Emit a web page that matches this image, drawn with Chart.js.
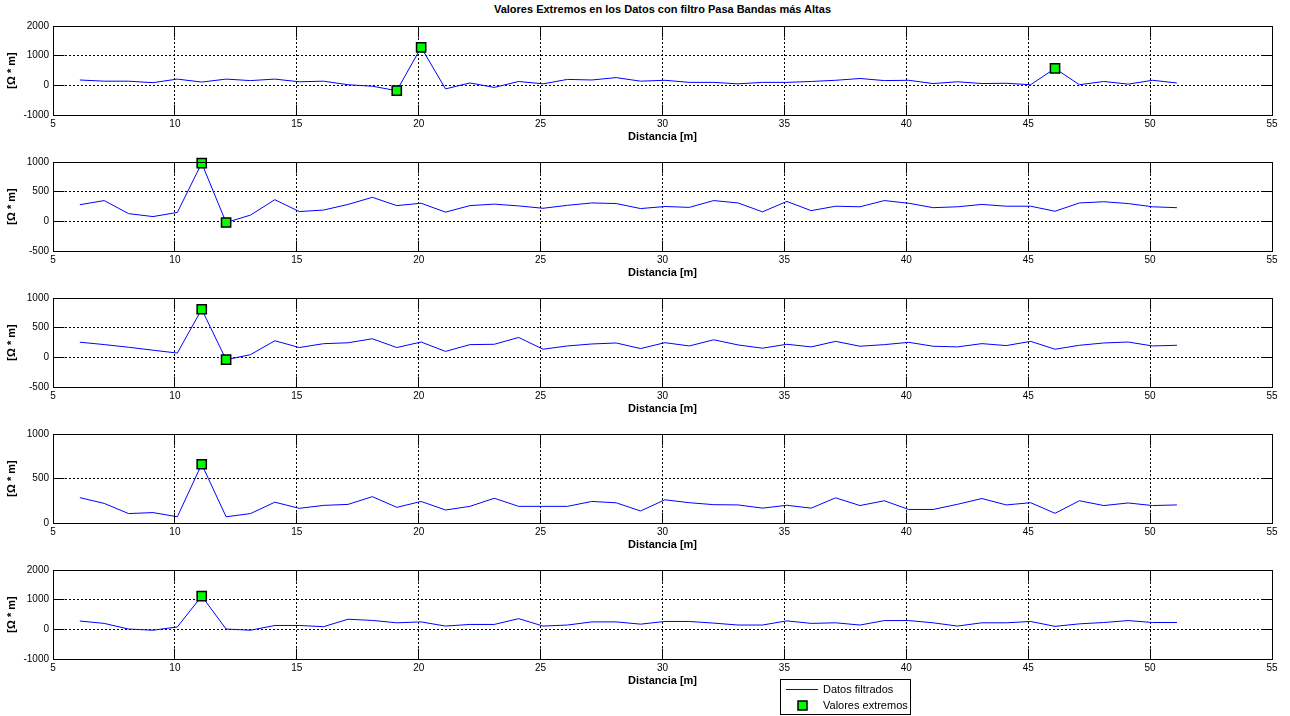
<!DOCTYPE html>
<html>
<head>
<meta charset="utf-8">
<script src="https://cdn.jsdelivr.net/npm/chart.js@4"></script>
<style>
body{margin:0;background:#fff;width:1290px;height:716px;overflow:hidden;position:relative;font-family:"Liberation Sans",Arial,sans-serif;}
#titulo{position:absolute;left:53px;width:1219px;top:3px;text-align:center;font-weight:bold;font-size:11px;color:#000;}
canvas{position:absolute;left:0;}
</style>
</head>
<body>
<div id="titulo">Valores Extremos en los Datos con filtro Pasa Bandas más Altas</div>
<canvas id="c1" width="1290" height="130" style="top:18px"></canvas>
<canvas id="c2" width="1290" height="130" style="top:154px"></canvas>
<canvas id="c3" width="1290" height="130" style="top:290px"></canvas>
<canvas id="c4" width="1290" height="130" style="top:426px"></canvas>
<canvas id="c5" width="1290" height="154" style="top:562px"></canvas>
<script>
// distancias de medicion [m]
let distancia = [6.1,7.1,8.1,9.1,10.1,11.1,12.1,13.1,14.1,15.1,16.1,17.1,18.1,19.1,20.1,21.1,22.1,23.1,24.1,25.1,26.1,27.1,28.1,29.1,
30.1,31.1,32.1,33.1,34.1,35.1,36.1,37.1,38.1,39.1,40.1,41.1,42.1,43.1,44.1,45.1,46.1,47.1,48.1,49.1,50.1,51.1];

// datos filtrados de cada nivel
let datos1 = [180,140,140,90,210,110,210,160,210,120,140,20,-30,-180,1280,-120,80,-70,130,50,200,180,260,140,
170,100,100,50,100,100,130,170,230,160,170,60,120,60,70,20,570,20,130,40,170,80];
let datos2 = [280,350,130,80,150,980,-20,105,365,165,190,285,405,265,305,155,265,290,260,220,270,310,300,215,
250,235,350,310,160,335,180,255,245,350,305,230,245,285,255,255,170,310,330,300,245,230];
let datos3 = [255,215,170,120,72,810,-40,45,280,165,230,245,313,165,258,100,214,220,335,137,192,225,242,148,
247,192,296,209,154,220,176,269,187,214,253,187,176,231,198,269,137,203,242,258,192,203];
let datos4 = [285,220,106,117,70,660,70,106,234,165,198,209,296,176,242,146,187,278,187,187,187,242,227,135,
261,228,206,203,167,199,167,283,196,250,152,152,210,275,203,228,109,250,196,225,196,203];
let datos5 = [280,200,10,-30,80,1120,10,-30,130,130,90,340,300,220,250,110,165,165,360,110,145,250,250,175,
265,265,210,145,145,285,200,220,145,295,295,220,110,220,220,265,100,185,230,295,230,230];

// distancias donde estan los valores extremos
let extremos1 = [19.1,20.1,46.1];
let extremos2 = [11.1,12.1];
let extremos3 = [11.1,12.1];
let extremos4 = [11.1];
let extremos5 = [11.1];

Chart.defaults.font.family = '"Liberation Sans", Arial, sans-serif';
Chart.defaults.font.size = 10;
Chart.defaults.color = '#000';

function alinear(p){
return Math.round(p - 0.5) + 0.5;
}

/* caja y marcas hacia adentro, estilo matlab */
const cuadro = {
id:'cuadro',
afterDraw(chart){
const {ctx, chartArea:a, scales} = chart;
const L = alinear(a.left), R = alinear(a.right), T = alinear(a.top), B = alinear(a.bottom);
const largo = 11;
ctx.save();
ctx.setLineDash([]);
ctx.strokeStyle = '#000';
ctx.lineWidth = 1;
ctx.strokeRect(L, T, R - L, B - T);
ctx.beginPath();
scales.x.ticks.forEach(t=>{
let px = alinear(scales.x.getPixelForValue(t.value));
ctx.moveTo(px, B); ctx.lineTo(px, B - largo);
ctx.moveTo(px, T); ctx.lineTo(px, T + largo);
});
scales.y.ticks.forEach(t=>{
let py = alinear(scales.y.getPixelForValue(t.value));
ctx.moveTo(L, py); ctx.lineTo(L + largo, py);
ctx.moveTo(R, py); ctx.lineTo(R - largo, py);
});
ctx.stroke();
ctx.restore();
}
};

/* leyenda abajo, dibujada en el ultimo panel */
const leyenda = {
id:'leyenda',
afterDraw(chart){
const ctx = chart.ctx;
const ext = chart.data.datasets[0];
const lin = chart.data.datasets[1];
ctx.save();
ctx.setLineDash([]);
ctx.fillStyle = '#fff';
ctx.fillRect(780.5, 117.5, 130, 35);
ctx.strokeStyle = '#000';
ctx.lineWidth = 1;
ctx.strokeRect(780.5, 117.5, 130, 35);
ctx.strokeStyle = lin.borderColor;
ctx.beginPath();
ctx.moveTo(786, 127.5);
ctx.lineTo(818, 127.5);
ctx.stroke();
ctx.fillStyle = ext.pointBackgroundColor;
ctx.fillRect(798, 139, 9, 9);
ctx.strokeStyle = ext.pointBorderColor;
ctx.lineWidth = 1.5;
ctx.strokeRect(798, 139, 9, 9);
ctx.fillStyle = '#000';
ctx.font = '11px "Liberation Sans", Arial, sans-serif';
ctx.textBaseline = 'middle';
ctx.fillText(lin.label, 823, 128);
ctx.fillText(ext.label, 823, 144);
ctx.restore();
}
};

function crearPanel(id, valores, extremos, yMin, yMax, paso, ultimo){

let linea = distancia.map((d,i)=>({x:d, y:valores[i]}));
let puntos = extremos.map(d=>({x:d, y:valores[distancia.indexOf(d)]}));

return new Chart(document.getElementById(id),{

type:"line",

data:{
datasets:[{
label:"Valores extremos",
data:puntos,
showLine:false,
clip:false,
pointStyle:"rect",
pointRadius:6.5,
pointBackgroundColor:"#00ff00",
pointBorderColor:"#000000",
pointBorderWidth:1.5,
order:0
},{
label:"Datos filtrados",
data:linea,
borderColor:"#0000ff",
borderWidth:1,
pointRadius:0,
tension:0,
fill:false,
order:1
}]
},

options:{
responsive:false,
animation:false,
events:[],
layout:{padding:{top:6, right:18, bottom: ultimo ? 24 : 0, left:0}},
plugins:{legend:{display:false}, tooltip:{enabled:false}},
scales:{
x:{
type:"linear",
min:5,
max:55,
ticks:{stepSize:5, padding:3, maxRotation:0, callback:v=>String(v)},
grid:{color:"#000", drawTicks:false, lineWidth:1},
border:{display:false, dash:[2,2]},
title:{display:true, text:"Distancia [m]", font:{size:11, weight:"bold"}, padding:{top:0, bottom:4}},
afterFit:s=>{ s.height = 33; s.paddingLeft = 0; s.paddingRight = 0; }
},
y:{
min:yMin,
max:yMax,
ticks:{stepSize:paso, padding:4, callback:v=>String(v)},
grid:{color:"#000", drawTicks:false, lineWidth:1},
border:{display:false, dash:[2,2]},
title:{display:true, text:"[Ω * m]", font:{size:11, weight:"bold"}, padding:{top:5, bottom:0}},
afterFit:s=>{ s.width = 53; s.paddingTop = 0; s.paddingBottom = 0; }
}
}
},

plugins: ultimo ? [cuadro, leyenda] : [cuadro]

});

}

crearPanel("c1", datos1, extremos1, -1000, 2000, 1000, false);
crearPanel("c2", datos2, extremos2, -500, 1000, 500, false);
crearPanel("c3", datos3, extremos3, -500, 1000, 500, false);
crearPanel("c4", datos4, extremos4, 0, 1000, 500, false);
crearPanel("c5", datos5, extremos5, -1000, 2000, 1000, true);
</script>
</body>
</html>
